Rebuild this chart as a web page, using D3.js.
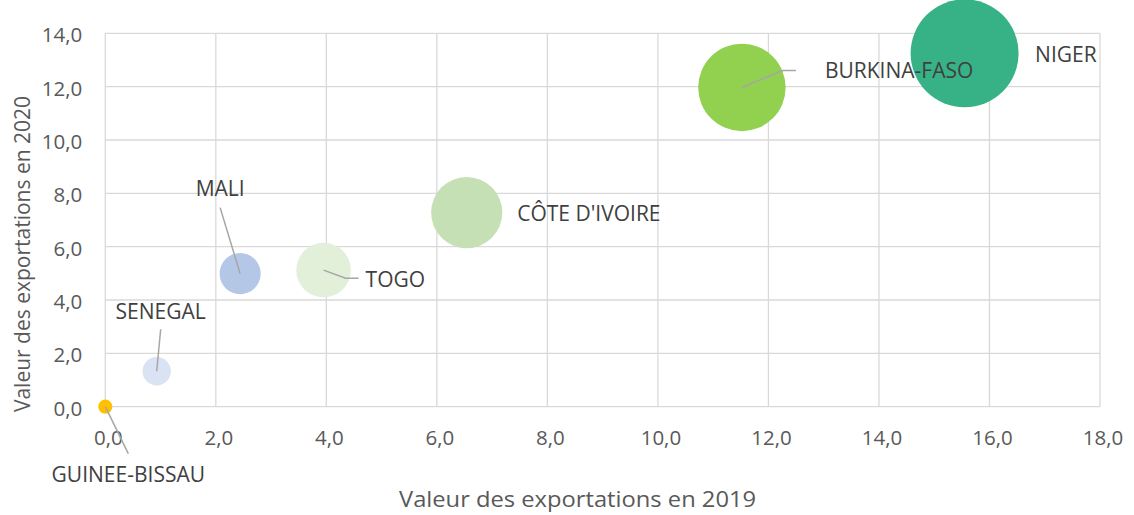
<!DOCTYPE html>
<html>
<head>
<meta charset="utf-8">
<script src="https://cdn.jsdelivr.net/npm/d3@7"></script>
<style>
  body { margin: 0; background: #fff; }
  svg text { font-family: "Open Sans", "DejaVu Sans", sans-serif; }
</style>
</head>
<body>
<svg id="chart" width="1134" height="515"></svg>
<script>
// data
var countries = ["GUINEE-BISSAU", "SENEGAL", "MALI", "TOGO", "CÔTE D'IVOIRE", "BURKINA-FASO", "NIGER"];
var exp2019 = [0.0, 0.93, 2.44, 3.95, 6.54, 11.52, 15.55];
var exp2020 = [0.0, 1.33, 4.99, 5.12, 7.28, 11.97, 13.25];
var bubbleSize = [0.5, 2.0, 4.2, 7.4, 12.6, 19.0, 29.0];
var colors = ["#FFC000", "#DAE3F3", "#B4C7E7", "#E2F0D9", "#C5E0B4", "#92D050", "#37B287"];
var xTicks = [0, 2, 4, 6, 8, 10, 12, 14, 16, 18];
var yTicks = [0, 2, 4, 6, 8, 10, 12, 14];

// label offsets relative to bubble center (dx, dy, anchor) and leader lines
var labelPos = [
  {dx: 23, dy: 75, anchor: "middle", leader: [[0, 0], [23, 47]]},
  {dx: 4, dy: -52, anchor: "middle", leader: [[0, 0], [4, -42]]},
  {dx: -20, dy: -78, anchor: "middle", leader: [[0, 0], [-20, -66]]},
  {dx: 42, dy: 17, anchor: "start", leader: [[0, 0], [22, 8], [35, 8]]},
  {dx: 50.5, dy: 8.3, anchor: "start", leader: null},
  {dx: 83, dy: -9.6, anchor: "start", leader: [[0, 0], [41, -17], [54, -17]]},
  {dx: 70.5, dy: 8.7, anchor: "start", leader: null}
];

var svg = d3.select("#chart");
var margin = {left: 105.3, top: 33.3, right: 34, bottom: 108.3};
var width = 1134 - margin.left - margin.right,
    height = 515 - margin.top - margin.bottom;

var x = d3.scaleLinear().domain([0, 18]).range([0, width]);
var y = d3.scaleLinear().domain([0, 14]).range([height, 0]);
var r = d3.scaleSqrt().domain([0, 29]).range([0, 54]);

var g = svg.append("g").attr("transform", "translate(" + margin.left + "," + margin.top + ")");

var fmt = function(d) { return d3.format(".1f")(d).replace(".", ","); };

// gridlines
g.append("g").selectAll("line").data(yTicks).enter().append("line")
  .attr("x1", 0).attr("x2", width)
  .attr("y1", function(d) { return y(d); }).attr("y2", function(d) { return y(d); })
  .attr("stroke", "#D9D9D9").attr("stroke-width", 1.3);
g.append("g").selectAll("line").data(xTicks).enter().append("line")
  .attr("y1", 0).attr("y2", height)
  .attr("x1", function(d) { return x(d); }).attr("x2", function(d) { return x(d); })
  .attr("stroke", "#D9D9D9").attr("stroke-width", 1.3);

// axes (labels only)
var xAxis = g.append("g").attr("transform", "translate(0," + height + ")")
  .call(d3.axisBottom(x).tickValues(xTicks).tickFormat(fmt).tickSize(0).tickPadding(23.5));
var yAxis = g.append("g")
  .call(d3.axisLeft(y).tickValues(yTicks).tickFormat(fmt).tickSize(0).tickPadding(23));
[xAxis, yAxis].forEach(function(a) {
  a.select(".domain").remove();
  a.selectAll("text").attr("fill", "#595959").style("font-size", "20.5px")
    .style("font-family", "'Open Sans', sans-serif");
});
xAxis.selectAll("text").attr("dx", 2.5);
yAxis.selectAll("text").attr("dy", "0.41em");

// bubbles
var data = countries.map(function(c, i) {
  return {name: c, x: exp2019[i], y: exp2020[i], s: bubbleSize[i], color: colors[i], lab: labelPos[i]};
});

g.append("g").selectAll("circle").data(data).enter().append("circle")
  .attr("cx", function(d) { return x(d.x); })
  .attr("cy", function(d) { return y(d.y); })
  .attr("r", function(d) { return r(d.s); })
  .attr("fill", function(d) { return d.color; });

// leader lines
g.append("g").selectAll("path").data(data.filter(function(d) { return d.lab.leader; })).enter().append("path")
  .attr("d", function(d) {
    return d3.line()(d.lab.leader.map(function(p) { return [x(d.x) + p[0], y(d.y) + p[1]]; }));
  })
  .attr("fill", "none").attr("stroke", "#A6A6A6").attr("stroke-width", 1.5);

// labels
g.append("g").selectAll("text").data(data).enter().append("text")
  .attr("x", function(d) { return x(d.x) + d.lab.dx; })
  .attr("y", function(d) { return y(d.y) + d.lab.dy; })
  .attr("text-anchor", function(d) { return d.lab.anchor; })
  .attr("fill", "#404040")
  .style("font-size", "21px")
  .text(function(d) { return d.name; });

// axis titles
svg.append("text")
  .attr("transform", "translate(399,506.5) scale(1.13,1)")
  .attr("text-anchor", "start").attr("fill", "#595959").style("font-size", "21px")
  .text("Valeur des exportations en 2019");
svg.append("text")
  .attr("transform", "translate(29.5,254) rotate(-90)")
  .attr("text-anchor", "middle").attr("fill", "#595959").style("font-size", "21px")
  .text("Valeur des exportations en 2020");
</script>
</body>
</html>
